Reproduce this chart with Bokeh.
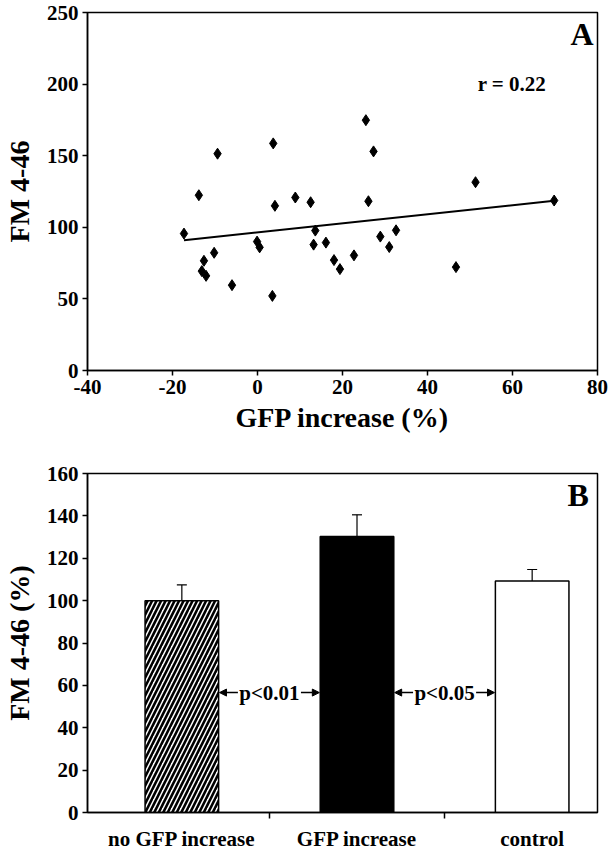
import numpy as np
from bokeh.plotting import figure
from bokeh.layouts import column
from bokeh.models import (FixedTicker, Range1d, Label, Arrow, NormalHead,
                          Whisker, TeeHead, ColumnDataSource)
from bokeh.embed import file_html
from bokeh.resources import INLINE

# ---------------- data: panel A ----------------
gfp_increase = [-17.3, -13.8, -9.4, -12.6, -13.1, -12.1, -10.2, -6.0, -0.1, 0.5,
                3.7, 4.1, 3.5, 8.9, 12.5, 13.6, 13.2, 16.1, 18.0, 19.4,
                22.7, 25.5, 27.3, 26.1, 28.9, 31.0, 32.6, 46.7, 51.3, 69.8]
fm_446 = [95.6, 122.4, 151.4, 76.6, 69.4, 66.1, 82.2, 59.6, 90.0, 86.0,
          158.6, 115.0, 52.1, 120.8, 117.5, 97.7, 87.9, 89.3, 77.1, 70.8,
          80.4, 174.8, 153.0, 118.2, 93.5, 86.2, 97.9, 72.2, 131.5, 118.7]
r_text = "r = 0.22"
x_ticks_a = [-40, -20, 0, 20, 40, 60, 80]
y_ticks_a = [0, 50, 100, 150, 200, 250]

# ---------------- data: panel B ----------------
categories = ["no GFP increase", "GFP increase", "control"]
bar_means = [100.0, 130.3, 109.3]
bar_errors = [7.4, 10.2, 5.4]
y_ticks_b = [0, 20, 40, 60, 80, 100, 120, 140, 160]
p_labels = ["p<0.01", "p<0.05"]

FONT = "Liberation Serif"
TICK_SIZE = "21px"
TITLE_SIZE = "28px"


def style_axes(p):
    for ax in p.axis:
        ax.axis_line_width = 1.5
        ax.axis_line_color = "black"
        ax.major_tick_line_width = 1.5
        ax.major_tick_line_color = "black"
        ax.major_tick_in = 0
        ax.major_tick_out = 5
        ax.minor_tick_in = 0
        ax.minor_tick_out = 0
        ax.major_label_text_font = FONT
        ax.major_label_text_font_style = "bold"
        ax.major_label_text_font_size = TICK_SIZE
        ax.major_label_text_color = "black"
        ax.axis_label_text_font = FONT
        ax.axis_label_text_font_style = "bold"
        ax.axis_label_text_font_size = TITLE_SIZE
        ax.axis_label_text_color = "black"
    p.xgrid.visible = False
    p.ygrid.visible = False
    p.outline_line_color = "black"
    p.outline_line_width = 1.5
    p.outline_line_alpha = 1.0
    p.background_fill_color = "white"
    p.border_fill_color = "white"


# ---------------- panel A ----------------
p1 = figure(width=612, height=448, x_range=Range1d(-40, 80), y_range=Range1d(0, 250),
            output_backend="svg", toolbar_location=None,
            min_border_left=83, min_border_right=15, min_border_top=12, min_border_bottom=78,
            x_axis_label="GFP increase (%)", y_axis_label="FM 4-46")
style_axes(p1)
p1.xaxis.ticker = FixedTicker(ticks=x_ticks_a)
p1.xaxis.major_label_overrides = {t: str(t) for t in x_ticks_a}
p1.yaxis.ticker = FixedTicker(ticks=y_ticks_a)
p1.xaxis.major_label_standoff = 4
p1.xaxis.axis_label_standoff = 5
p1.yaxis.major_label_standoff = 4
p1.yaxis.axis_label_standoff = 9

p1.scatter(gfp_increase, fm_446, marker="diamond", size=11, color="black")
slope, intercept = np.polyfit(gfp_increase, fm_446, 1)
xs = [min(gfp_increase), max(gfp_increase)]
p1.line(xs, [slope * v + intercept for v in xs], line_width=2, color="black")

p1.add_layout(Label(x=51.8, y=200.4, text=r_text, text_align="left", text_baseline="middle",
                    text_font=FONT, text_font_style="bold", text_font_size="21px",
                    text_color="black"))
p1.add_layout(Label(x=79.1, y=235.3, text="A", text_align="right", text_baseline="middle",
                    text_font=FONT, text_font_style="bold", text_font_size="32px",
                    text_color="black"))

# ---------------- panel B ----------------
xpos = [0.5, 1.5, 2.5]
bar_w = 0.42
p2 = figure(width=612, height=405, x_range=Range1d(-0.0386, 2.873), y_range=Range1d(0, 160),
            output_backend="svg", toolbar_location=None,
            min_border_left=83, min_border_right=9, min_border_top=25, min_border_bottom=39,
            y_axis_label="FM 4-46 (%)")
style_axes(p2)
p2.yaxis.ticker = FixedTicker(ticks=y_ticks_b)
p2.xaxis.ticker = FixedTicker(ticks=xpos, minor_ticks=[1, 2])
p2.xaxis.major_label_overrides = {x: c for x, c in zip(xpos, categories)}
p2.xaxis.major_tick_out = 0
p2.xaxis.minor_tick_out = 6
p2.xaxis.minor_tick_line_width = 1.5
p2.xaxis.minor_tick_line_color = "black"
p2.xaxis.major_label_standoff = 8
p2.xaxis.axis_label_standoff = 0
p2.yaxis.major_label_standoff = 4
p2.yaxis.axis_label_standoff = 9

# hatched bar
p2.vbar(x=[xpos[0]], top=[bar_means[0]], width=bar_w, fill_color="white",
        line_color="black", line_width=1.5, hatch_pattern="/", hatch_color="black",
        hatch_scale=9, hatch_weight=2.6)
p2.vbar(x=[xpos[1]], top=[bar_means[1]], width=bar_w, fill_color="black",
        line_color="black", line_width=1.5)
p2.vbar(x=[xpos[2]], top=[bar_means[2]], width=bar_w, fill_color="white",
        line_color="black", line_width=1.5)

err_src = ColumnDataSource(dict(
    x=xpos,
    upper=[m + e for m, e in zip(bar_means, bar_errors)],
    lower=[m - e for m, e in zip(bar_means, bar_errors)],
))
p2.add_layout(Whisker(source=err_src, base="x", upper="upper", lower="lower",
                      line_width=1.2, line_color="black",
                      upper_head=TeeHead(size=10, line_width=1.2, line_color="black"),
                      lower_head=TeeHead(size=10, line_width=1.2, line_color="black")))

P_Y = 56.6
TEXT_HALF = 0.18
for i, lab in enumerate(p_labels):
    cx = (xpos[i] + xpos[i + 1]) / 2
    p2.add_layout(Label(x=cx, y=P_Y, text=lab, text_align="center", text_baseline="middle",
                        text_font=FONT, text_font_style="bold", text_font_size="21px",
                        text_color="black"))
    left_edge = xpos[i] + bar_w / 2
    right_edge = xpos[i + 1] - bar_w / 2
    p2.add_layout(Arrow(x_start=cx - TEXT_HALF, y_start=P_Y, x_end=left_edge + 0.005, y_end=P_Y,
                        line_width=1.5, line_color="black",
                        end=NormalHead(size=7, fill_color="black", line_color="black")))
    p2.add_layout(Arrow(x_start=cx + TEXT_HALF, y_start=P_Y, x_end=right_edge - 0.005, y_end=P_Y,
                        line_width=1.5, line_color="black",
                        end=NormalHead(size=7, fill_color="black", line_color="black")))

p2.add_layout(Label(x=2.823, y=149.7, text="B", text_align="right", text_baseline="middle",
                    text_font=FONT, text_font_style="bold", text_font_size="32px",
                    text_color="black"))

layout = column(p1, p2)
open("out.html", "w").write(file_html(layout, INLINE))
